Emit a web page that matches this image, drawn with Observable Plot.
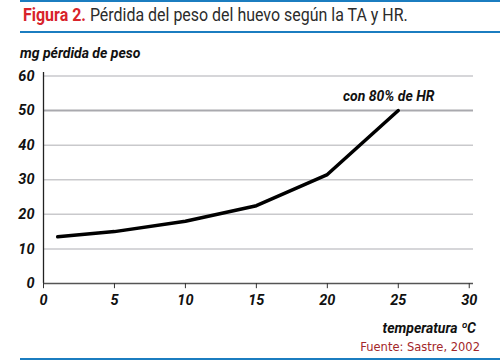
<!DOCTYPE html>
<html>
<head>
<meta charset="utf-8">
<script src="https://cdn.jsdelivr.net/npm/d3@7"></script>
<script src="https://cdn.jsdelivr.net/npm/@observablehq/plot@0.6"></script>
<style>
  html, body { margin: 0; padding: 0; background: #ffffff; }
  #wrap { position: relative; width: 500px; height: 361px; overflow: hidden; background: #ffffff; font-family: Roboto, "Liberation Sans", sans-serif; }
  #wrap svg { position: absolute; left: 0; top: 0; }
  .bar { position: absolute; left: 20px; right: 0; height: 2px; background: #1b7dc0; }
  #title { position: absolute; left: 23px; top: 3px; font-size: 19px; color: #2b2b2b; white-space: nowrap; transform: scaleX(0.84); transform-origin: left top; }
  #title b { color: #d8232a; font-weight: bold; }
  #ylab { position: absolute; left: 20px; top: 45px; font-size: 14px; font-weight: bold; font-style: italic; color: #111; white-space: nowrap; }
  #xlab { position: absolute; right: 24px; top: 320px; font-size: 14px; font-weight: bold; font-style: italic; color: #111; white-space: nowrap; }
  #src { position: absolute; right: 20px; top: 340px; font-family: "DejaVu Sans", Verdana, sans-serif; font-size: 11.5px; color: #a3262a; white-space: nowrap; }
</style>
</head>
<body>
<div id="wrap">
  <div class="bar" style="top:0px"></div>
  <div id="title"><b>Figura 2.</b> Pérdida del peso del huevo según la TA y HR.</div>
  <div class="bar" style="top:31px"></div>
  <div id="ylab">mg pérdida de peso</div>
  <div id="xlab">temperatura ºC</div>
  <div id="src">Fuente: Sastre, 2002</div>
  <div class="bar" style="top:358px; height:2px"></div>
</div>
<script>
// Data
const temperatura = [1, 5, 10, 15, 20, 25];
const perdidaPeso = [13.5, 15, 18, 22.5, 31.5, 50];
const xTicks = [0, 5, 10, 15, 20, 25, 30];
const yTicks = [0, 10, 20, 30, 40, 50, 60];
const gridLines = [10, 20, 30, 40, 60];
const highlightLine = [50];
const seriesLabel = "con 80% de HR";

const data = temperatura.map((t, i) => ({t, v: perdidaPeso[i]}));
const font = 'Roboto, "Liberation Sans", sans-serif';

const chart = Plot.plot({
  width: 500,
  height: 361,
  marginLeft: 43,
  marginRight: 27,
  marginTop: 72,
  marginBottom: 78,
  style: {background: "transparent", fontFamily: font},
  x: {domain: [0, 30.3], axis: null},
  y: {domain: [0, 61], axis: null},
  marks: [
    Plot.ruleY(gridLines, {y: d => d, stroke: "#c9c9cc", strokeWidth: 1.5}),
    Plot.ruleY(highlightLine, {y: d => d, stroke: "#a9a9ae", strokeWidth: 2}),
    Plot.ruleX([0], {x: d => d, y1: 0, y2: 61, stroke: "#222", strokeWidth: 1.3}),
    Plot.ruleY([0], {y: d => d, stroke: "#555", strokeWidth: 1.3}),
    Plot.ruleX(xTicks, {x: d => d, y1: 0, y2: -1.5, stroke: "#333", strokeWidth: 1}),
    Plot.text(yTicks, {x: 0, y: d => d, text: d => String(d), textAnchor: "end", dx: -9, fontSize: 14.5, fontWeight: "bold", fontStyle: "italic", fill: "#111"}),
    Plot.text(xTicks, {x: d => d, y: 0, text: d => String(d), dy: 17, fontSize: 14.5, fontWeight: "bold", fontStyle: "italic", fill: "#111"}),
    Plot.line(data, {x: "t", y: "v", stroke: "#000", strokeWidth: 3.5, strokeLinecap: "round", strokeLinejoin: "round"}),
    Plot.text([seriesLabel], {x: 25, y: 50, text: d => d, dx: -9.5, dy: -14, textAnchor: "middle", fontSize: 14, fontWeight: "bold", fontStyle: "italic", fill: "#111"})
  ]
});
document.getElementById("wrap").prepend(chart);
</script>
</body>
</html>
